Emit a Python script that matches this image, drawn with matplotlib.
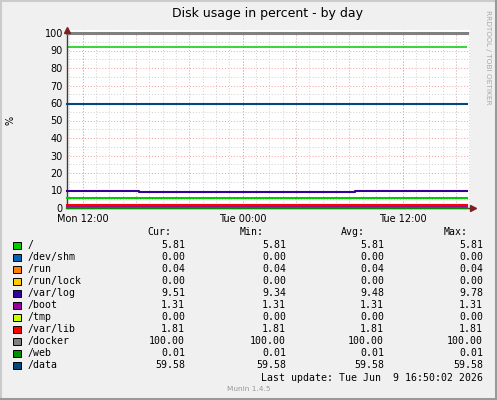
import numpy as np
import matplotlib
matplotlib.use('Agg')
import matplotlib.pyplot as plt
from matplotlib.patches import Rectangle
from matplotlib.ticker import MultipleLocator

W, H = 497, 400

# time in hours counted from Mon 00:00, graph covers Mon 10:50 -> Tue 16:50
t_start = 10 + 50 / 60.
t_end = 40 + 50 / 60.

labels = ['/', '/dev/shm', '/run', '/run/lock', '/var/log', '/boot', '/tmp',
          '/var/lib', '/docker', '/web', '/data']
colors = ['#00CC00', '#0066B3', '#FF8000', '#FFCC00', '#330099', '#990099',
          '#CCFF00', '#FF0000', '#808080', '#008F00', '#00487D']
cur = [5.81, 0.00, 0.04, 0.00, 9.51, 1.31, 0.00, 1.81, 100.00, 0.01, 59.58]
vmin = [5.81, 0.00, 0.04, 0.00, 9.34, 1.31, 0.00, 1.81, 100.00, 0.01, 59.58]
vavg = [5.81, 0.00, 0.04, 0.00, 9.48, 1.31, 0.00, 1.81, 100.00, 0.01, 59.58]
vmax = [5.81, 0.00, 0.04, 0.00, 9.78, 1.31, 0.00, 1.81, 100.00, 0.01, 59.58]

# /var/log is the only one that moves during the day
varlog_t = [t_start, 16.2, 32.45, t_end]
varlog_v = [9.78, 9.34, 9.51, 9.51]

warning_level = 92

x_ticks = [12, 24, 36]
x_ticklabels = ['Mon 12:00', 'Tue 00:00', 'Tue 12:00']


def fx(x):
    return x / W


def fy(y):
    return 1 - y / H


fig = plt.figure(figsize=(W / 100, H / 100), dpi=100, facecolor='#F0F0F0')

# 3d frame like rrdtool
fig.add_artist(plt.Line2D([fx(1), fx(1)], [0, 1], color='#CBCBCB', lw=1.5))
fig.add_artist(plt.Line2D([0, 1], [fy(1), fy(1)], color='#CBCBCB', lw=1.5))
fig.add_artist(plt.Line2D([fx(W - 1.5), fx(W - 1.5)], [0, 1], color='#999999', lw=2.2))
fig.add_artist(plt.Line2D([0, 1], [fy(H - 1.5), fy(H - 1.5)], color='#999999', lw=2.2))

px_h = 400 / 30.  # pixels per hour
left, right = 67, 470
top, bottom = 30, 208
ax = fig.add_axes([fx(left), fy(bottom), (right - left) / W, (bottom - top) / H])
ax.set_facecolor('white')
ax.set_xlim(t_start, t_start + (right - left) / px_h)
ax.set_ylim(0, (bottom - top) / 1.75)

ax.xaxis.set_minor_locator(MultipleLocator(1))
ax.yaxis.set_minor_locator(MultipleLocator(5))
ax.set_yticks(np.arange(0, 101, 10))
ax.set_xticks(x_ticks, labels=x_ticklabels)
ax.grid(which='minor', color='#CFCFCF', lw=0.7, ls=(0, (1, 2)))
ax.grid(which='major', color='#F0A0A0', lw=0.7, ls=(0, (1, 2)))
ax.set_axisbelow(True)
# red major grid every 4h, labels every 12h
for h in np.arange(12, t_end, 4):
    ax.axvline(h, color='#F0A0A0', lw=0.7, ls=(0, (1, 2)), zorder=0.5)
ax.tick_params(which='both', length=0, labelsize=7, pad=3)
ax.tick_params(axis='x', pad=4)

for s in ['top', 'right']:
    ax.spines[s].set_visible(False)
for s in ['left', 'bottom']:
    ax.spines[s].set_color('#3C3C3C')
    ax.spines[s].set_linewidth(1.0)

ax.plot([t_start, t_end], [warning_level, warning_level], color='#00CC00',
        lw=1.1, zorder=2, solid_capstyle='butt')

for i, lab in enumerate(labels):
    if lab == '/var/log':
        ax.plot(varlog_t, varlog_v, drawstyle='steps-post', color=colors[i],
                lw=1.5, clip_on=False, zorder=3)
    else:
        lw = 2.2 if lab == '/docker' else 1.5
        ax.plot([t_start, t_end], [cur[i], cur[i]], color=colors[i], lw=lw,
                clip_on=False, zorder=3)

# arrows
ax.plot([t_start], [(bottom - top) / 1.75], marker='^', color='#7F1F1F',
        ms=4, clip_on=False, zorder=5)
ax.plot([t_start + (right - left + 3) / px_h], [0], marker='>', color='#7F1F1F',
        ms=4, clip_on=False, zorder=5)

fig.text(fx(268), fy(13), 'Disk usage in percent - by day', ha='center',
         va='center', fontsize=9)
fig.text(fx(10), fy(120), '%', rotation=90, ha='center', va='center',
         fontsize=7)
fig.text(fx(488), fy(57), 'RRDTOOL / TOBI OETIKER', rotation=270, ha='center',
         va='center', fontsize=5.3, color='#A8A8A8')

mono = 'DejaVu Sans Mono'
fs = 7.1
hy = 232
for txt, xr in [('Cur:', 171), ('Min:', 264), ('Avg:', 365), ('Max:', 468)]:
    fig.text(fx(xr), fy(hy), txt, ha='right', va='center', family=mono, fontsize=fs)

for i, lab in enumerate(labels):
    y = 245 + 12 * i
    fig.add_artist(Rectangle((fx(13), fy(y + 4)), 7.5 / W, 7.5 / H,
                             transform=fig.transFigure, facecolor=colors[i],
                             edgecolor='black', lw=0.7))
    fig.text(fx(27), fy(y), lab, ha='left', va='center', family=mono, fontsize=fs)
    for vals, xr in [(cur, 185), (vmin, 286), (vavg, 384), (vmax, 483)]:
        fig.text(fx(xr), fy(y), '%.2f' % vals[i], ha='right', va='center',
                 family=mono, fontsize=fs)

fig.text(fx(483), fy(378), 'Last update: Tue Jun  9 16:50:02 2026', ha='right',
         va='center', family=mono, fontsize=fs)
fig.text(fx(249), fy(389), 'Munin 1.4.5', ha='center', va='center',
         fontsize=5.3, color='#999999')

fig.savefig('out.png', dpi=100, facecolor=fig.get_facecolor())
